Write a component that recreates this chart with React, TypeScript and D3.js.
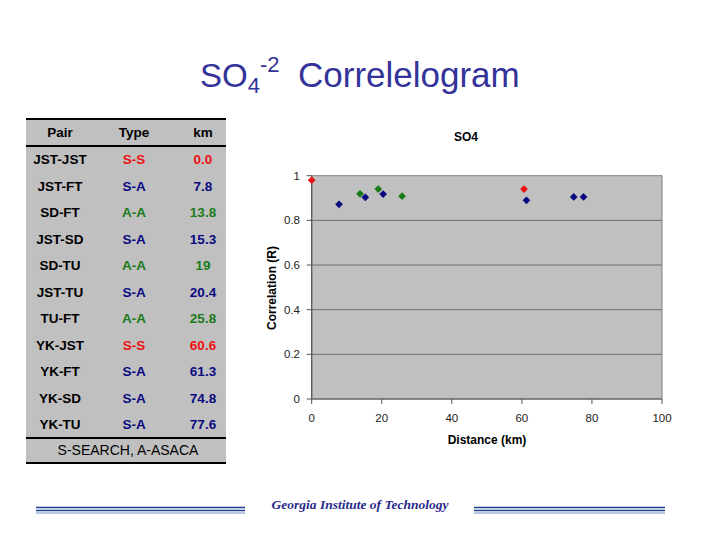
import React from "react";
import * as d3 from "d3";

const pairs = ["JST-JST", "JST-FT", "SD-FT", "JST-SD", "SD-TU", "JST-TU", "TU-FT", "YK-JST", "YK-FT", "YK-SD", "YK-TU"];
const types = ["S-S", "S-A", "A-A", "S-A", "A-A", "S-A", "A-A", "S-S", "S-A", "S-A", "S-A"];
const kmLabels = ["0.0", "7.8", "13.8", "15.3", "19", "20.4", "25.8", "60.6", "61.3", "74.8", "77.6"];
const distances = [0, 7.8, 13.8, 15.3, 19, 20.4, 25.8, 60.6, 61.3, 74.8, 77.6];
const correlations = [0.98, 0.872, 0.919, 0.903, 0.94, 0.918, 0.908, 0.94, 0.89, 0.905, 0.905];
const xTicks = [0, 20, 40, 60, 80, 100];
const yTicks = [0, 0.2, 0.4, 0.6, 0.8, 1];
const yTickLabels = ["0", "0.2", "0.4", "0.6", "0.8", "1"];

const typeColor: Record<string, string> = { "S-S": "#ee1111", "S-A": "#0a0a80", "A-A": "#1a7a1a" };

export default function App() {
  const W = 720, H = 540;
  const x = d3.scaleLinear().domain([0, 100]).range([311.7, 662]);
  const y = d3.scaleLinear().domain([0, 1]).range([399, 175.7]);
  const marker = d3.symbol().type(d3.symbolSquare).size(30)()!;

  const tLeft = 26, tRight = 226;
  const colX = [60, 134, 203];
  const rowY = (i: number) => 159 + i * 26.5;

  return (
    <svg width={W} height={H} style={{ position: "absolute", left: 0, top: 0, background: "#fff" }}
      fontFamily="Arial, 'Liberation Sans', sans-serif">
      {/* Main title */}
      <text x={200} y={87} fontSize={33} fill="#333399">
        SO<tspan fontSize={22} dy={6}>4</tspan><tspan fontSize={22} dy={-21}>-2</tspan>
      </text>
      <text x={298} y={87} fontSize={35} fill="#333399">Correlelogram</text>

      {/* Table */}
      <rect x={tLeft} y={118} width={tRight - tLeft} height={345} fill="#c0c0c0" />
      <line x1={tLeft} x2={tRight} y1={119} y2={119} stroke="#000" strokeWidth={2} />
      <line x1={tLeft} x2={tRight} y1={146} y2={146} stroke="#000" strokeWidth={2} />
      <line x1={tLeft} x2={tRight} y1={438} y2={438} stroke="#000" strokeWidth={2} />
      <line x1={tLeft} x2={tRight} y1={463} y2={463} stroke="#000" strokeWidth={2} />
      {["Pair", "Type", "km"].map((h, i) => (
        <text key={h} x={colX[i]} y={137} textAnchor="middle" fontSize={13.5} fontWeight="bold" fill="#000">{h}</text>
      ))}
      {pairs.map((p, i) => (
        <g key={p} fontSize={13.5} fontWeight="bold" textAnchor="middle">
          <text x={colX[0]} y={rowY(i) + 5} fill="#000">{p}</text>
          <text x={colX[1]} y={rowY(i) + 5} fill={typeColor[types[i]]}>{types[i]}</text>
          <text x={colX[2]} y={rowY(i) + 5} fill={typeColor[types[i]]}>{kmLabels[i]}</text>
        </g>
      ))}
      <text x={128} y={455} textAnchor="middle" fontSize={14} fill="#000">S-SEARCH, A-ASACA</text>

      {/* Chart */}
      <text x={466} y={141} textAnchor="middle" fontSize={12} fontWeight="bold" fill="#000">SO4</text>
      <rect x={x(0)} y={y(1)} width={x(100) - x(0)} height={y(0) - y(1)} fill="#c0c0c0" stroke="#808080" strokeWidth={1} />
      {yTicks.filter(t => t > 0 && t < 1).map(t => (
        <line key={t} x1={x(0)} x2={x(100)} y1={y(t)} y2={y(t)} stroke="#6e6e6e" strokeWidth={1} />
      ))}
      <line x1={x(0)} x2={x(0)} y1={y(1)} y2={y(0)} stroke="#555" strokeWidth={1.2} />
      <line x1={x(0)} x2={x(100)} y1={y(0)} y2={y(0)} stroke="#555" strokeWidth={1.2} />
      {yTicks.map((t, i) => (
        <g key={t}>
          <line x1={x(0) - 5} x2={x(0)} y1={y(t)} y2={y(t)} stroke="#555" />
          <text x={300} y={y(t) + 4} textAnchor="end" fontSize={11.5} fill="#222">{yTickLabels[i]}</text>
        </g>
      ))}
      {xTicks.map(t => (
        <g key={t}>
          <line x1={x(t)} x2={x(t)} y1={y(0)} y2={y(0) + 5} stroke="#555" />
          <text x={x(t)} y={422} textAnchor="middle" fontSize={11.5} fill="#222">{t}</text>
        </g>
      ))}
      <text x={487} y={444} textAnchor="middle" fontSize={12} fontWeight="bold" fill="#000">Distance (km)</text>
      <text transform="translate(276,288) rotate(-90)" textAnchor="middle" fontSize={12} fontWeight="bold" fill="#000">Correlation (R)</text>
      {distances.map((d, i) => (
        <path key={i} d={marker} transform={`translate(${x(d)},${y(correlations[i])}) rotate(45)`} fill={typeColor[types[i]]} />
      ))}

      {/* Footer */}
      {[[36, 245], [474, 665]].map(([a, b], i) => (
        <g key={i}>
          <line x1={a} x2={b} y1={507.5} y2={507.5} stroke="#1f3f8f" strokeWidth={1.5} />
          <line x1={a} x2={b} y1={510.5} y2={510.5} stroke="#1f3f8f" strokeWidth={1.5} />
          <line x1={a} x2={b} y1={513} y2={513} stroke="#6f8fc8" strokeWidth={1} />
        </g>
      ))}
      <text x={360} y={509} textAnchor="middle" fontSize={13.5} fontStyle="italic" fontWeight="bold"
        fontFamily="'Liberation Serif', 'Times New Roman', serif" fill="#2a2a8a">Georgia Institute of Technology</text>
    </svg>
  );
}
